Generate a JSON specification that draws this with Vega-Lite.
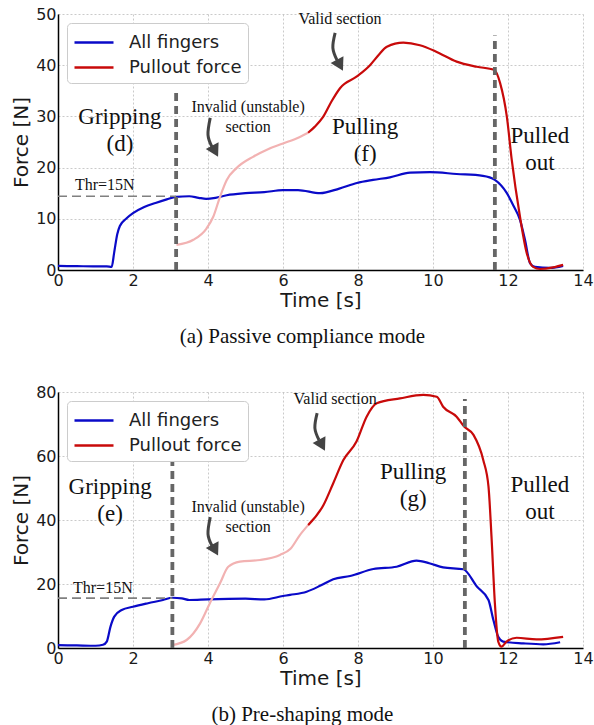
{
  "$schema": "https://vega.github.io/schema/vega-lite/v6.json",
  "background": "white",
  "padding": {"left": 11, "top": 6, "right": 0, "bottom": 0},
  "config": {
    "view": {"stroke": null},
    "font": "DejaVu Sans",
    "axis": {
      "domainColor": "#000", "domainWidth": 1.5, "grid": true, "gridColor": "#bdbdbd",
      "gridDash": [2, 2], "gridWidth": 0.8, "ticks": false, "labelFont": "DejaVu Sans",
      "labelFontSize": 16, "labelColor": "#1a1a1a", "titleFont": "DejaVu Sans", "titleFontSize": 20,
      "titleFontWeight": "normal", "titleColor": "#1a1a1a", "labelPadding": 2,
      "labelOverlap": false, "labelFlush": false
    },
    "legend": {
      "labelFont": "DejaVu Sans", "labelFontSize": 18, "labelColor": "#222", "symbolType": "M-1,0H2.25",
      "symbolSize": 576, "symbolStrokeWidth": 2.5, "labelOffset": 29, "fillColor": "white",
      "strokeColor": "#cccccc", "cornerRadius": 4, "padding": 6, "rowPadding": 2, "offset": 9
    },
    "title": {"font": "Liberation Serif", "fontSize": 21, "fontWeight": "normal", "color": "#111", "frame": "bounds", "offset": 16}
  },
  "datasets": {
    "curves": [
      {"panel":"a","series":"All fingers","t":0,"f":0.8},{"panel":"a","series":"All fingers","t":0.5,"f":0.75},{"panel":"a","series":"All fingers","t":1.0,"f":0.7},{"panel":"a","series":"All fingers","t":1.3,"f":0.7},{"panel":"a","series":"All fingers","t":1.43,"f":0.6},{"panel":"a","series":"All fingers","t":1.5,"f":3.5},{"panel":"a","series":"All fingers","t":1.58,"f":7.0},{"panel":"a","series":"All fingers","t":1.65,"f":8.6},{"panel":"a","series":"All fingers","t":1.83,"f":10.1},{"panel":"a","series":"All fingers","t":2.0,"f":11.1},{"panel":"a","series":"All fingers","t":2.3,"f":12.3},{"panel":"a","series":"All fingers","t":2.6,"f":13.1},{"panel":"a","series":"All fingers","t":2.9,"f":13.8},{"panel":"a","series":"All fingers","t":3.15,"f":14.3},{"panel":"a","series":"All fingers","t":3.5,"f":14.4},{"panel":"a","series":"All fingers","t":3.75,"f":14.1},{"panel":"a","series":"All fingers","t":3.95,"f":13.9},{"panel":"a","series":"All fingers","t":4.2,"f":14.1},{"panel":"a","series":"All fingers","t":4.5,"f":14.6},{"panel":"a","series":"All fingers","t":5.0,"f":15.0},{"panel":"a","series":"All fingers","t":5.5,"f":15.2},{"panel":"a","series":"All fingers","t":6.0,"f":15.6},{"panel":"a","series":"All fingers","t":6.4,"f":15.6},{"panel":"a","series":"All fingers","t":6.99,"f":15.0},{"panel":"a","series":"All fingers","t":7.5,"f":15.9},{"panel":"a","series":"All fingers","t":7.97,"f":17.0},{"panel":"a","series":"All fingers","t":8.4,"f":17.6},{"panel":"a","series":"All fingers","t":8.85,"f":18.1},{"panel":"a","series":"All fingers","t":9.39,"f":19.0},{"panel":"a","series":"All fingers","t":9.92,"f":19.1},{"panel":"a","series":"All fingers","t":10.63,"f":18.75},{"panel":"a","series":"All fingers","t":11.33,"f":18.4},{"panel":"a","series":"All fingers","t":11.65,"f":17.6},{"panel":"a","series":"All fingers","t":11.97,"f":15.0},{"panel":"a","series":"All fingers","t":12.15,"f":12.5},{"panel":"a","series":"All fingers","t":12.32,"f":9.8},{"panel":"a","series":"All fingers","t":12.45,"f":6.0},{"panel":"a","series":"All fingers","t":12.59,"f":1.3},{"panel":"a","series":"All fingers","t":12.72,"f":0.6},{"panel":"a","series":"All fingers","t":13.12,"f":0.4},{"panel":"a","series":"All fingers","t":13.47,"f":0.8},
      {"panel":"a","series":"Invalid","t":3.16,"f":4.9},{"panel":"a","series":"Invalid","t":3.61,"f":5.9},{"panel":"a","series":"Invalid","t":3.96,"f":8.1},{"panel":"a","series":"Invalid","t":4.14,"f":10.4},{"panel":"a","series":"Invalid","t":4.32,"f":14.3},{"panel":"a","series":"Invalid","t":4.5,"f":17.6},{"panel":"a","series":"Invalid","t":4.76,"f":19.9},{"panel":"a","series":"Invalid","t":5.2,"f":22.1},{"panel":"a","series":"Invalid","t":5.6,"f":23.6},{"panel":"a","series":"Invalid","t":6.0,"f":24.7},{"panel":"a","series":"Invalid","t":6.45,"f":26.0},{"panel":"a","series":"Invalid","t":6.67,"f":26.8},
      {"panel":"a","series":"Pullout force","t":6.67,"f":26.8},{"panel":"a","series":"Pullout force","t":6.85,"f":28.0},{"panel":"a","series":"Pullout force","t":7.07,"f":29.9},{"panel":"a","series":"Pullout force","t":7.3,"f":33.0},{"panel":"a","series":"Pullout force","t":7.52,"f":35.5},{"panel":"a","series":"Pullout force","t":7.97,"f":37.8},{"panel":"a","series":"Pullout force","t":8.32,"f":40.0},{"panel":"a","series":"Pullout force","t":8.55,"f":42.0},{"panel":"a","series":"Pullout force","t":8.77,"f":43.6},{"panel":"a","series":"Pullout force","t":9.21,"f":44.4},{"panel":"a","series":"Pullout force","t":9.65,"f":43.9},{"panel":"a","series":"Pullout force","t":10.1,"f":42.6},{"panel":"a","series":"Pullout force","t":10.63,"f":40.7},{"panel":"a","series":"Pullout force","t":11.17,"f":39.7},{"panel":"a","series":"Pullout force","t":11.63,"f":39.1},{"panel":"a","series":"Pullout force","t":11.79,"f":36.5},{"panel":"a","series":"Pullout force","t":11.97,"f":29.9},{"panel":"a","series":"Pullout force","t":12.1,"f":21.5},{"panel":"a","series":"Pullout force","t":12.32,"f":10.4},{"panel":"a","series":"Pullout force","t":12.5,"f":3.3},{"panel":"a","series":"Pullout force","t":12.67,"f":0.6},{"panel":"a","series":"Pullout force","t":12.85,"f":0.2},{"panel":"a","series":"Pullout force","t":13.2,"f":0.5},{"panel":"a","series":"Pullout force","t":13.47,"f":1.0},
      {"panel":"b","series":"All fingers","t":0,"f":0.9},{"panel":"b","series":"All fingers","t":0.5,"f":0.8},{"panel":"b","series":"All fingers","t":1.0,"f":0.7},{"panel":"b","series":"All fingers","t":1.2,"f":1.0},{"panel":"b","series":"All fingers","t":1.3,"f":2.0},{"panel":"b","series":"All fingers","t":1.4,"f":6.7},{"panel":"b","series":"All fingers","t":1.5,"f":9.8},{"panel":"b","series":"All fingers","t":1.7,"f":11.9},{"panel":"b","series":"All fingers","t":2.0,"f":12.9},{"panel":"b","series":"All fingers","t":2.4,"f":14.0},{"panel":"b","series":"All fingers","t":2.8,"f":15.0},{"panel":"b","series":"All fingers","t":3.05,"f":15.7},{"panel":"b","series":"All fingers","t":3.3,"f":15.5},{"panel":"b","series":"All fingers","t":3.5,"f":15.0},{"panel":"b","series":"All fingers","t":4.0,"f":15.2},{"panel":"b","series":"All fingers","t":5.0,"f":15.4},{"panel":"b","series":"All fingers","t":5.5,"f":15.2},{"panel":"b","series":"All fingers","t":6.0,"f":16.25},{"panel":"b","series":"All fingers","t":6.19,"f":16.6},{"panel":"b","series":"All fingers","t":6.63,"f":17.6},{"panel":"b","series":"All fingers","t":7.0,"f":19.5},{"panel":"b","series":"All fingers","t":7.34,"f":21.5},{"panel":"b","series":"All fingers","t":7.79,"f":22.5},{"panel":"b","series":"All fingers","t":8.41,"f":24.7},{"panel":"b","series":"All fingers","t":9.03,"f":25.4},{"panel":"b","series":"All fingers","t":9.56,"f":27.3},{"panel":"b","series":"All fingers","t":9.9,"f":26.5},{"panel":"b","series":"All fingers","t":10.27,"f":25.2},{"panel":"b","series":"All fingers","t":10.81,"f":24.6},{"panel":"b","series":"All fingers","t":11.17,"f":19.2},{"panel":"b","series":"All fingers","t":11.48,"f":15.0},{"panel":"b","series":"All fingers","t":11.61,"f":8.75},{"panel":"b","series":"All fingers","t":11.74,"f":3.5},{"panel":"b","series":"All fingers","t":11.87,"f":2.0},{"panel":"b","series":"All fingers","t":12.41,"f":1.45},{"panel":"b","series":"All fingers","t":12.94,"f":1.15},{"panel":"b","series":"All fingers","t":13.39,"f":1.8},
      {"panel":"b","series":"Invalid","t":3.05,"f":0.9},{"panel":"b","series":"Invalid","t":3.43,"f":2.5},{"panel":"b","series":"Invalid","t":3.79,"f":7.7},{"panel":"b","series":"Invalid","t":4.05,"f":14.0},{"panel":"b","series":"Invalid","t":4.32,"f":20.2},{"panel":"b","series":"Invalid","t":4.54,"f":25.4},{"panel":"b","series":"Invalid","t":4.85,"f":27.0},{"panel":"b","series":"Invalid","t":5.39,"f":27.5},{"panel":"b","series":"Invalid","t":5.92,"f":29.1},{"panel":"b","series":"Invalid","t":6.2,"f":31.0},{"panel":"b","series":"Invalid","t":6.45,"f":35.3},{"panel":"b","series":"Invalid","t":6.67,"f":38.4},
      {"panel":"b","series":"Pullout force","t":6.67,"f":38.4},{"panel":"b","series":"Pullout force","t":7.08,"f":44.7},{"panel":"b","series":"Pullout force","t":7.34,"f":51.5},{"panel":"b","series":"Pullout force","t":7.61,"f":58.75},{"panel":"b","series":"Pullout force","t":7.96,"f":64.5},{"panel":"b","series":"Pullout force","t":8.23,"f":72.3},{"panel":"b","series":"Pullout force","t":8.5,"f":76.5},{"panel":"b","series":"Pullout force","t":9.12,"f":78.0},{"panel":"b","series":"Pullout force","t":9.74,"f":79.1},{"panel":"b","series":"Pullout force","t":10.1,"f":78.5},{"panel":"b","series":"Pullout force","t":10.27,"f":75.4},{"panel":"b","series":"Pullout force","t":10.63,"f":72.3},{"panel":"b","series":"Pullout force","t":10.83,"f":69.2},{"panel":"b","series":"Pullout force","t":11.08,"f":66.6},{"panel":"b","series":"Pullout force","t":11.34,"f":58.75},{"panel":"b","series":"Pullout force","t":11.48,"f":50.4},{"panel":"b","series":"Pullout force","t":11.56,"f":34.8},{"panel":"b","series":"Pullout force","t":11.65,"f":14.0},{"panel":"b","series":"Pullout force","t":11.74,"f":2.0},{"panel":"b","series":"Pullout force","t":11.83,"f":0.4},{"panel":"b","series":"Pullout force","t":11.96,"f":2.0},{"panel":"b","series":"Pullout force","t":12.23,"f":3.2},{"panel":"b","series":"Pullout force","t":12.76,"f":2.7},{"panel":"b","series":"Pullout force","t":13.47,"f":3.5}
    ],
    "vlines": [
      {"panel":"a","t":3.15,"f":0,"f2":35.4},{"panel":"a","t":11.65,"f":0,"f2":45.8},
      {"panel":"b","t":3.05,"f":0,"f2":59.4},{"panel":"b","t":10.85,"f":0,"f2":77.8}
    ],
    "thr": [
      {"panel":"a","t":0,"t2":3.15,"f":14.4},{"panel":"b","t":0,"t2":3.05,"f":15.6}
    ],
    "arrows": [
      {"panel":"a","id":1,"k":1,"t":4.06,"f":29.7},{"panel":"a","id":1,"k":2,"t":4.0,"f":26.4},{"panel":"a","id":1,"k":3,"t":4.11,"f":24.0},
      {"panel":"a","id":2,"k":1,"t":7.39,"f":46.3},{"panel":"a","id":2,"k":2,"t":7.33,"f":43.4},{"panel":"a","id":2,"k":3,"t":7.44,"f":41.0},
      {"panel":"b","id":3,"k":1,"t":4.06,"f":40.9},{"panel":"b","id":3,"k":2,"t":4.0,"f":35.6},{"panel":"b","id":3,"k":3,"t":4.11,"f":31.9},
      {"panel":"b","id":4,"k":1,"t":6.91,"f":73.4},{"panel":"b","id":4,"k":2,"t":6.85,"f":68.75},{"panel":"b","id":4,"k":3,"t":6.96,"f":65.0}
    ],
    "heads": [
      {"panel":"a","t":4.19,"f":23.2},{"panel":"a","t":7.52,"f":40.0},
      {"panel":"b","t":4.19,"f":30.6},{"panel":"b","t":7.04,"f":63.4}
    ],
    "bigtext": [
      {"panel":"a","t":1.65,"f":29.9,"label":"Gripping\n(d)"},{"panel":"a","t":8.19,"f":27.9,"label":"Pulling\n(f)"},{"panel":"a","t":12.85,"f":26.2,"label":"Pulled\nout"},
      {"panel":"b","t":1.39,"f":50.3,"label":"Gripping\n(e)"},{"panel":"b","t":9.47,"f":55.0,"label":"Pulling\n(g)"},{"panel":"b","t":12.85,"f":50.9,"label":"Pulled\nout"}
    ],
    "smalltext": [
      {"panel":"a","t":5.07,"f":31.8,"label":"Invalid (unstable)\nsection"},{"panel":"a","t":7.52,"f":49.0,"label":"Valid section"},
      {"panel":"b","t":5.07,"f":44.1,"label":"Invalid (unstable)\nsection"},{"panel":"b","t":7.39,"f":77.8,"label":"Valid section"}
    ],
    "thrtext": [
      {"panel":"a","t":0.45,"f":16.6,"label":"Thr=15N"},{"panel":"b","t":0.4,"f":18.75,"label":"Thr=15N"}
    ]
  },
  "resolve": {"scale": {"color": "independent"}, "legend": {"color": "independent"}},
  "spacing": 37,
  "vconcat": [
    {
      "width": 525, "height": 256,
      "title": {"text": "(a) Passive compliance mode", "orient": "bottom"},
      "encoding": {
        "x": {"field": "t", "type": "quantitative", "scale": {"domain": [0, 14], "nice": false, "zero": false}, "axis": {"title": "Time [s]", "values": [0,2,4,6,8,10,12,14], "titlePadding": 2}},
        "y": {"field": "f", "type": "quantitative", "scale": {"domain": [0, 50], "nice": false}, "axis": {"title": "Force [N]", "values": [0,10,20,30,40,50], "titlePadding": 4}}
      },
      "layer": [
        {"data": {"name": "curves"}, "transform": [{"filter": "datum.panel === 'a'"}],
         "mark": {"type": "line", "strokeWidth": 2.2, "interpolate": "monotone"},
         "encoding": {"color": {"field": "series", "type": "nominal", "scale": {"domain": ["All fingers", "Pullout force", "Invalid"], "range": ["#0a0ac8", "#c80a0a", "#f2b2b2"]}, "legend": {"values": ["All fingers", "Pullout force"], "title": null, "orient": "top-left"}}}},
        {"data": {"name": "thr"}, "transform": [{"filter": "datum.panel === 'a'"}],
         "mark": {"type": "rule", "color": "#808080", "strokeWidth": 1.6, "strokeDash": [9, 5]},
         "encoding": {"x2": {"field": "t2"}}},
        {"data": {"name": "vlines"}, "transform": [{"filter": "datum.panel === 'a'"}],
         "mark": {"type": "rule", "color": "#666666", "strokeWidth": 3.8, "strokeDash": [8, 5]},
         "encoding": {"y2": {"field": "f2"}}},
        {"data": {"name": "arrows"}, "transform": [{"filter": "datum.panel === 'a'"}],
         "mark": {"type": "line", "color": "#444444", "strokeWidth": 3, "interpolate": "natural"},
         "encoding": {"detail": {"field": "id"}, "order": {"field": "k"}}},
        {"data": {"name": "heads"}, "transform": [{"filter": "datum.panel === 'a'"}],
         "mark": {"type": "point", "shape": "triangle-down", "filled": true, "color": "#444444", "opacity": 1, "size": 210, "angle": -28},
         "encoding": {}},
        {"data": {"name": "bigtext"}, "transform": [{"filter": "datum.panel === 'a'"}],
         "mark": {"type": "text", "font": "Liberation Serif", "fontSize": 23, "lineBreak": "\n", "lineHeight": 27, "align": "center", "baseline": "middle", "color": "#111"},
         "encoding": {"text": {"field": "label"}}},
        {"data": {"name": "smalltext"}, "transform": [{"filter": "datum.panel === 'a'"}],
         "mark": {"type": "text", "font": "Liberation Serif", "fontSize": 16, "lineBreak": "\n", "lineHeight": 20, "align": "center", "baseline": "middle", "color": "#111"},
         "encoding": {"text": {"field": "label"}}},
        {"data": {"name": "thrtext"}, "transform": [{"filter": "datum.panel === 'a'"}],
         "mark": {"type": "text", "font": "Liberation Serif", "fontSize": 16, "align": "left", "baseline": "middle", "color": "#111"},
         "encoding": {"text": {"field": "label"}}}
      ]
    },
    {
      "width": 525, "height": 256,
      "title": {"text": "(b) Pre-shaping mode", "orient": "bottom"},
      "encoding": {
        "x": {"field": "t", "type": "quantitative", "scale": {"domain": [0, 14], "nice": false, "zero": false}, "axis": {"title": "Time [s]", "values": [0,2,4,6,8,10,12,14], "titlePadding": 2}},
        "y": {"field": "f", "type": "quantitative", "scale": {"domain": [0, 80], "nice": false}, "axis": {"title": "Force [N]", "values": [0,20,40,60,80], "titlePadding": 4}}
      },
      "layer": [
        {"data": {"name": "curves"}, "transform": [{"filter": "datum.panel === 'b'"}],
         "mark": {"type": "line", "strokeWidth": 2.2, "interpolate": "monotone"},
         "encoding": {"color": {"field": "series", "type": "nominal", "scale": {"domain": ["All fingers", "Pullout force", "Invalid"], "range": ["#0a0ac8", "#c80a0a", "#f2b2b2"]}, "legend": {"values": ["All fingers", "Pullout force"], "title": null, "orient": "top-left"}}}},
        {"data": {"name": "thr"}, "transform": [{"filter": "datum.panel === 'b'"}],
         "mark": {"type": "rule", "color": "#808080", "strokeWidth": 1.6, "strokeDash": [9, 5]},
         "encoding": {"x2": {"field": "t2"}}},
        {"data": {"name": "vlines"}, "transform": [{"filter": "datum.panel === 'b'"}],
         "mark": {"type": "rule", "color": "#666666", "strokeWidth": 3.8, "strokeDash": [8, 5]},
         "encoding": {"y2": {"field": "f2"}}},
        {"data": {"name": "arrows"}, "transform": [{"filter": "datum.panel === 'b'"}],
         "mark": {"type": "line", "color": "#444444", "strokeWidth": 3, "interpolate": "natural"},
         "encoding": {"detail": {"field": "id"}, "order": {"field": "k"}}},
        {"data": {"name": "heads"}, "transform": [{"filter": "datum.panel === 'b'"}],
         "mark": {"type": "point", "shape": "triangle-down", "filled": true, "color": "#444444", "opacity": 1, "size": 210, "angle": -28},
         "encoding": {}},
        {"data": {"name": "bigtext"}, "transform": [{"filter": "datum.panel === 'b'"}],
         "mark": {"type": "text", "font": "Liberation Serif", "fontSize": 23, "lineBreak": "\n", "lineHeight": 27, "align": "center", "baseline": "middle", "color": "#111"},
         "encoding": {"text": {"field": "label"}}},
        {"data": {"name": "smalltext"}, "transform": [{"filter": "datum.panel === 'b'"}],
         "mark": {"type": "text", "font": "Liberation Serif", "fontSize": 16, "lineBreak": "\n", "lineHeight": 20, "align": "center", "baseline": "middle", "color": "#111"},
         "encoding": {"text": {"field": "label"}}},
        {"data": {"name": "thrtext"}, "transform": [{"filter": "datum.panel === 'b'"}],
         "mark": {"type": "text", "font": "Liberation Serif", "fontSize": 16, "align": "left", "baseline": "middle", "color": "#111"},
         "encoding": {"text": {"field": "label"}}}
      ]
    }
  ]
}
